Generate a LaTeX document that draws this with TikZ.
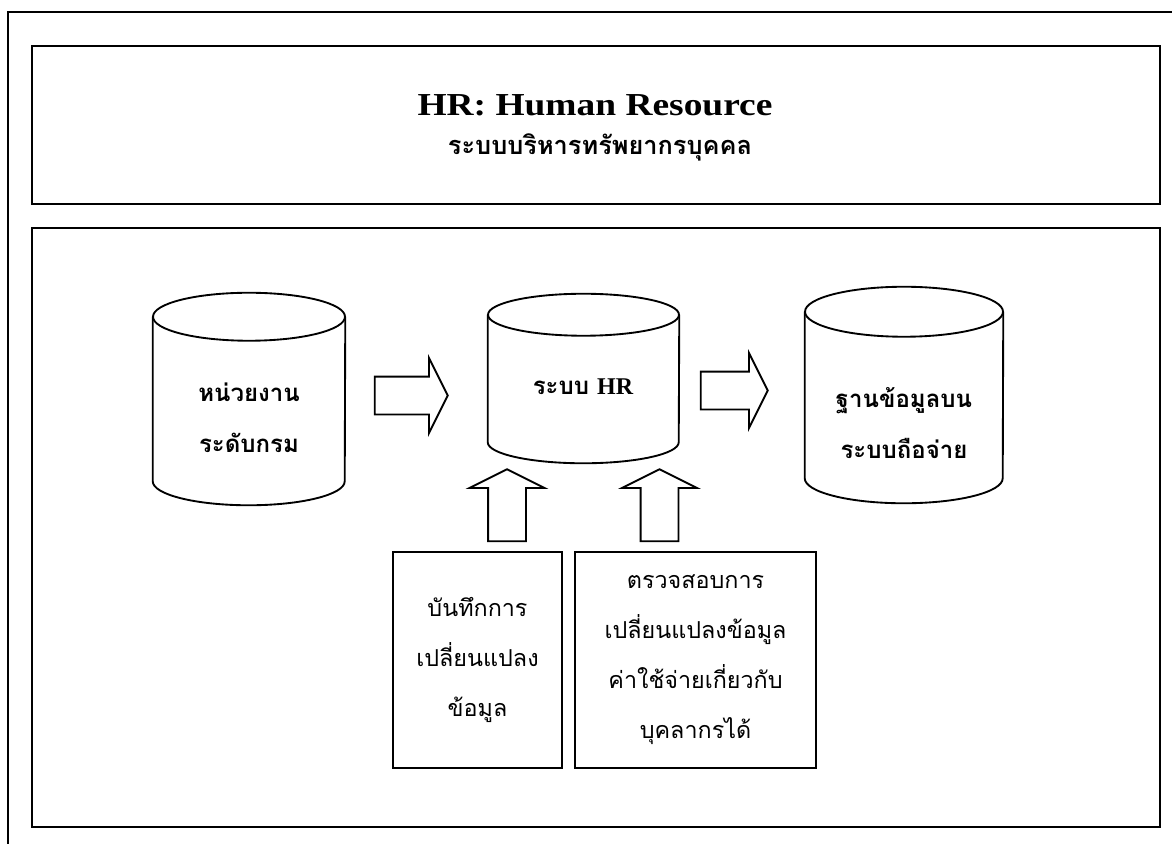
\documentclass[tikz,border=0pt]{standalone}
\usepackage{fontspec}
\setmainfont{Liberation Serif}
\newfontfamily\thaifont[Script=Thai]{Loma}
\usetikzlibrary{shapes.arrows,calc}

\begin{document}
\begin{tikzpicture}[x=0.75pt, y=-0.75pt,
  frame line/.style={line width=1.9pt},
  db node/.style={rectangle, inner sep=0pt},
  db line/.style={line width=1.4pt},
  flow arrow/.style={single arrow, draw, line width=1.4pt, inner xsep=0pt, inner ysep=13.5pt, single arrow head extend=13.9pt, single arrow tip angle=127},
  note box/.style={rectangle, draw, line width=1.9pt, align=center, minimum height=162pt, font=\thaifont\fontsize{17.5}{37.5}\selectfont},
  db text/.style={align=center, font=\thaifont\bfseries\fontsize{18}{38}\selectfont}]

  \useasboundingbox (0,0) rectangle (1172,844);

  % frames
  \draw[frame line] (1172,12) -- (8,12) -- (8,844);
  \draw[frame line] (32,46) rectangle (1160,204);
  \draw[frame line] (32,228) rectangle (1160,827);

  % title
  \node[font=\bfseries\fontsize{24}{28}\selectfont] (title) at (595,105) {\scalebox{1.17}[1]{HR: Human Resource}};
  \node[font=\thaifont\bfseries\fontsize{19}{24}\selectfont] (subtitle) at (600,147) {ระบบบริหารทรัพยากรบุคคล};

  % databases
  \node[db node, minimum width=144pt, minimum height=159pt] (src) at (249,399) {};
  \draw[db line] ($(src.north west)+(0,24)$) -- ($(src.south west)+(0,-24)$)
    arc[start angle=180, end angle=0, x radius=96, y radius=24] -- ($(src.north east)+(0,24)$);
  \draw[db line] ($(src.north)+(0,24)$) ellipse [x radius=96, y radius=24];

  \node[db node, minimum width=143.25pt, minimum height=126.75pt] (hr) at (583.5,378.5) {};
  \draw[db line] ($(hr.north west)+(0,21)$) -- ($(hr.south west)+(0,-21)$)
    arc[start angle=180, end angle=0, x radius=95.5, y radius=21] -- ($(hr.north east)+(0,21)$);
  \draw[db line] ($(hr.north)+(0,21)$) ellipse [x radius=95.5, y radius=21];

  \node[db node, minimum width=148.5pt, minimum height=162pt] (pay) at (904,395) {};
  \draw[db line] ($(pay.north west)+(0,25)$) -- ($(pay.south west)+(0,-25)$)
    arc[start angle=180, end angle=0, x radius=99, y radius=25] -- ($(pay.north east)+(0,25)$);
  \draw[db line] ($(pay.north)+(0,25)$) ellipse [x radius=99, y radius=25];

  \node[db text] (srctext) at (249,418) {หน่วยงาน\\ระดับกรม};
  \node[db text] (hrtext) at (583,387) {ระบบ {\rmfamily HR}};
  \node[db text] (paytext) at (904,423) {ฐานข้อมูลบน\\ระบบถือจ่าย};

  % arrows
  \node[flow arrow, minimum height=54.75pt] (a1) at (406.5,395.5) {};
  \node[flow arrow, minimum height=50.25pt] (a2) at (729.5,390.5) {};
  \node[flow arrow, minimum height=54pt, rotate=90] (a3) at (507,510) {};
  \node[flow arrow, minimum height=54pt, rotate=90] (a4) at (659.5,510) {};

  % input boxes
  \node[note box, minimum width=126.75pt] (rec) at (477.5,660) {บันทึกการ\\เปลี่ยนแปลง\\ข้อมูล};
  \node[note box, minimum width=180.75pt] (chk) at (695.5,660) {ตรวจสอบการ\\เปลี่ยนแปลงข้อมูล\\ค่าใช้จ่ายเกี่ยวกับ\\บุคลากรได้};

\end{tikzpicture}
\end{document}
